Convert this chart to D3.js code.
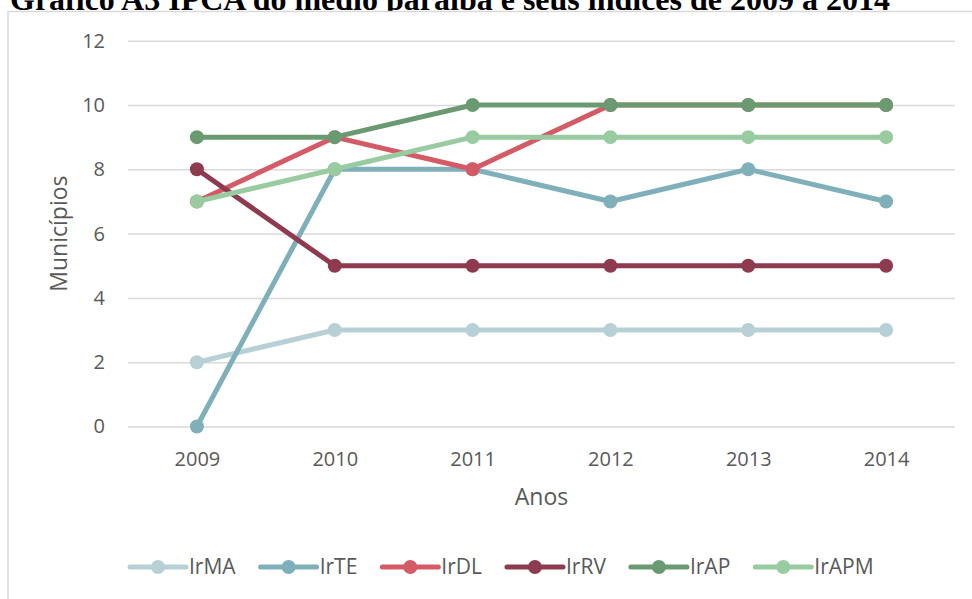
<!DOCTYPE html>
<html lang="pt">
<head>
<meta charset="UTF-8">
<script src="https://cdn.jsdelivr.net/npm/d3@7"></script>
<title>Gráfico A3</title>
<style>
  body { margin: 0; background: #fff; }
  text { font-family: "Open Sans", sans-serif; }
</style>
</head>
<body>
<svg width="972" height="599"></svg>
<script>
  // dados
  const anos = ["2009", "2010", "2011", "2012", "2013", "2014"];
  const seriesNames = ["IrMA", "IrTE", "IrDL", "IrRV", "IrAP", "IrAPM"];
  const IrMA = [2, 3, 3, 3, 3, 3];
  const IrTE = [0, 8, 8, 7, 8, 7];
  const IrDL = [7, 9, 8, 10, 10, 10];
  const IrRV = [8, 5, 5, 5, 5, 5];
  const IrAP = [9, 9, 10, 10, 10, 10];
  const IrAPM = [7, 8, 9, 9, 9, 9];
  const yTicks = [0, 2, 4, 6, 8, 10, 12];

  const colors = ["#b7d0d5", "#7fafb9", "#d45a65", "#8e3a4f", "#6a9a72", "#98cba0"];
  const valores = [IrMA, IrTE, IrDL, IrRV, IrAP, IrAPM];

  const series = seriesNames.map((name, i) => ({
    name: name,
    color: colors[i],
    values: valores[i].map((v, j) => ({ ano: anos[j], v: v }))
  }));

  const svg = d3.select("svg");
  const plotLeft = 128, plotRight = 955, plotTop = 40.7, plotBottom = 426.5;

  // título (cortado pela moldura, como no original)
  svg.append("text")
    .attr("x", 10)
    .attr("y", 9.5)
    .style("font-family", "'Liberation Serif', 'Times New Roman', serif")
    .style("font-weight", "bold")
    .style("font-size", "32px")
    .attr("fill", "#000")
    .text("Gráfico A3 IPCA do médio paraíba e seus índices de 2009 a 2014");

  // moldura do gráfico
  svg.append("rect")
    .attr("x", 8)
    .attr("y", 11.5)
    .attr("width", 1000)
    .attr("height", 700)
    .attr("fill", "#fff")
    .attr("stroke", "#d9d9d9")
    .attr("stroke-width", 1.5);

  const x = d3.scalePoint()
    .domain(anos)
    .range([plotLeft, plotRight])
    .padding(0.5);

  const y = d3.scaleLinear()
    .domain([0, 12])
    .range([plotBottom, plotTop]);

  /**
   * eixo y + linhas de grade
   */
  const yAxis = svg.append("g")
    .attr("transform", "translate(" + plotLeft + ",0)")
    .call(d3.axisLeft(y).tickValues(yTicks).tickSize(-(plotRight - plotLeft)).tickPadding(23));
  yAxis.select(".domain").remove();
  yAxis.selectAll(".tick line").attr("stroke", "#d9d9d9").attr("stroke-width", 1.5);
  yAxis.selectAll(".tick text")
    .attr("fill", "#595959")
    .style("font-size", "20px")
    .style("font-family", "'Open Sans', sans-serif");

  /**
   * eixo x
   */
  const xAxis = svg.append("g")
    .attr("transform", "translate(0," + plotBottom + ")")
    .call(d3.axisBottom(x).tickSize(0).tickPadding(25));
  xAxis.select(".domain").remove();
  xAxis.selectAll(".tick text")
    .attr("fill", "#595959")
    .style("font-size", "20px")
    .style("font-family", "'Open Sans', sans-serif");

  // títulos dos eixos
  svg.append("text")
    .attr("x", (plotLeft + plotRight) / 2)
    .attr("y", 505)
    .attr("text-anchor", "middle")
    .attr("fill", "#595959")
    .style("font-size", "23px")
    .text("Anos");

  svg.append("text")
    .attr("transform", "translate(67," + ((plotTop + plotBottom) / 2) + ") rotate(-90)")
    .attr("text-anchor", "middle")
    .attr("fill", "#595959")
    .style("font-size", "23px")
    .text("Municípios");

  /**
   * linhas
   */
  const line = d3.line()
    .x(d => x(d.ano))
    .y(d => y(d.v));

  const g = svg.append("g").attr("class", "series");
  series.forEach(s => {
    g.append("path")
      .datum(s.values)
      .attr("d", line)
      .attr("fill", "none")
      .attr("stroke", s.color)
      .attr("stroke-width", 5)
      .attr("stroke-linejoin", "round");
    g.selectAll(null)
      .data(s.values)
      .join("circle")
      .attr("cx", d => x(d.ano))
      .attr("cy", d => y(d.v))
      .attr("r", 7)
      .attr("fill", s.color);
  });

  /**
   * legenda
   */
  const legend = svg.append("g").attr("class", "legend");
  let lx = 130;
  const ly = 567;
  series.forEach(s => {
    const item = legend.append("g");
    item.append("line")
      .attr("x1", lx).attr("x2", lx + 56)
      .attr("y1", ly).attr("y2", ly)
      .attr("stroke", s.color)
      .attr("stroke-width", 5)
      .attr("stroke-linecap", "round");
    item.append("circle")
      .attr("cx", lx + 28).attr("cy", ly)
      .attr("r", 7)
      .attr("fill", s.color);
    const t = item.append("text")
      .attr("x", lx + 59)
      .attr("y", ly)
      .attr("dy", "0.35em")
      .attr("fill", "#595959")
      .style("font-size", "21px")
      .text(s.name);
    lx += 59 + t.node().getComputedTextLength() + 25;
  });
</script>
</body>
</html>
